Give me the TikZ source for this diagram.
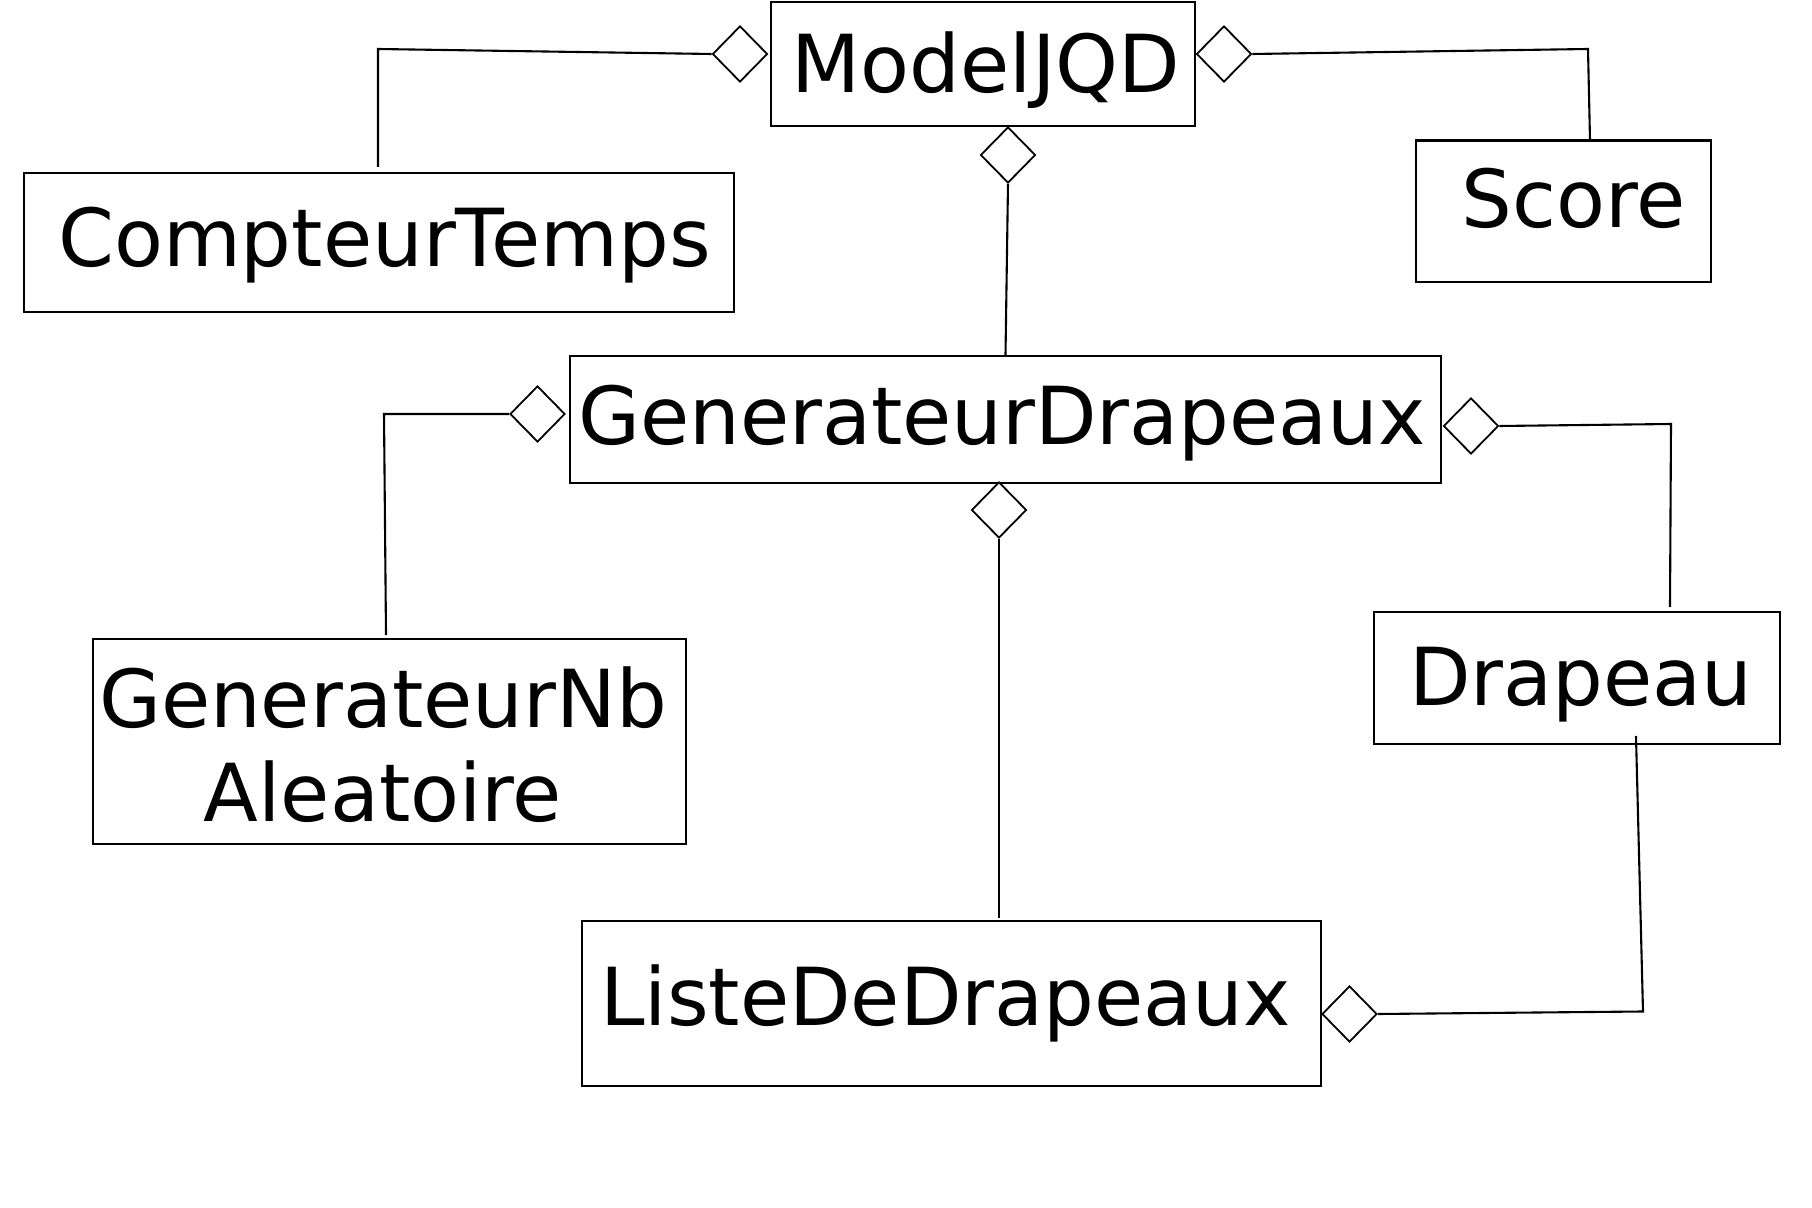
\documentclass[tikz,border=0pt]{standalone}
\usepackage{fontspec}
\setmainfont{DejaVu Sans}
\usetikzlibrary{shapes.geometric}
\begin{document}
\begin{tikzpicture}[x=0.5pt,y=-0.5pt,
  box/.style={draw, line width=1.2pt, rectangle, inner sep=0pt},
  lbl/.style={anchor=base, inner sep=0pt, font=\fontsize{40}{48}\selectfont},
  agg/.style={draw, line width=0.9pt, diamond, fill=white, inner sep=0pt, minimum width=27.5pt, minimum height=28pt},
  conn/.style={line width=1.05pt}]
\useasboundingbox (0,0) rectangle (1812,1208);
% boxes
\node[box, minimum width=212pt, minimum height=62pt] (M) at (983,64) {};
\node[box, minimum width=355pt, minimum height=69.5pt] (CT) at (379,242.5) {};
\node[box, minimum width=147.5pt, minimum height=70.7pt] (S) at (1563.5,211.3) {};
\node[box, minimum width=435.5pt, minimum height=63.5pt] (GD) at (1005.5,419.5) {};
\node[box, minimum width=296.5pt, minimum height=102.5pt] (GNA) at (389.5,741.5) {};
\node[box, minimum width=203pt, minimum height=66pt] (D) at (1577,678) {};
\node[box, minimum width=369.5pt, minimum height=82.5pt] (LDD) at (951.5,1003.5) {};
% labels
\node[lbl] (tM) at (986,92.5) {ModelJQD};
\node[lbl] (tCT) at (384.5,267) {CompteurTemps};
\node[lbl] (tS) at (1573.5,228) {Score};
\node[lbl] (tGD) at (1002,445) {GenerateurDrapeaux};
\node[lbl] (tGNA1) at (383,727) {GenerateurNb};
\node[lbl] (tGNA2) at (383,821) {Aleatoire};
\node[lbl] (tD) at (1581,706) {Drapeau};
\node[lbl] (tLDD) at (945.5,1025) {ListeDeDrapeaux};
% diamonds
\node[agg] (dML) at (740,54) {};
\node[agg] (dMR) at (1224,54) {};
\node[agg] (dMB) at (1008,155) {};
\node[agg] (dGL) at (537.5,414) {};
\node[agg] (dGR) at (1471,426) {};
\node[agg] (dGB) at (999,510) {};
\node[agg] (dLR) at (1349.5,1014) {};
% connectors
\coordinate (c1) at (378,49); \coordinate (c1e) at (378,167);
\coordinate (c2) at (1588,49); \coordinate (c2e) at (1590,140);
\coordinate (c4) at (384,414); \coordinate (c4e) at (386,635);
\coordinate (c5) at (1671,424); \coordinate (c5e) at (1670,607);
\coordinate (c6e) at (999,918);
\coordinate (c7) at (1643,1011.5); \coordinate (c7e) at (1636,736);
\draw[conn] (dML.west) -- (c1) -- (c1e);
\draw[conn] (dMR.east) -- (c2) -- (c2e);
\draw[conn] (dMB.south) -- (GD.north);
\draw[conn] (dGL.west) -- (c4) -- (c4e);
\draw[conn] (dGR.east) -- (c5) -- (c5e);
\draw[conn] (dGB.south) -- (c6e);
\draw[conn] (dLR.east) -- (c7) -- (c7e);
\end{tikzpicture}
\end{document}
